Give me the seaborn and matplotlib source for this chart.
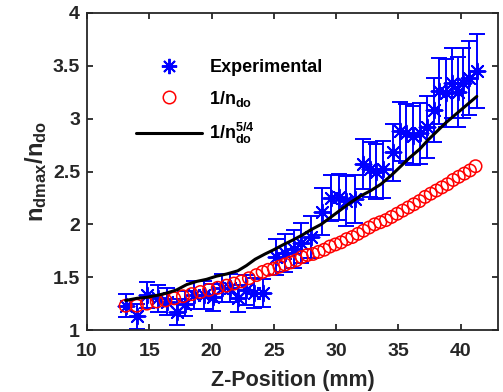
import matplotlib
matplotlib.use("Agg")
import matplotlib.pyplot as plt
import seaborn as sns
from matplotlib.lines import Line2D

# Experimental points (Z in mm, ratio, +/- error)
exp_z = [13.1, 14.0, 14.8, 15.7, 16.4, 17.2, 17.9, 18.6, 19.4, 20.1, 20.8, 21.5,
         22.1, 22.8, 23.4, 24.1, 25.2, 25.9, 26.6, 27.2, 28.0, 28.9, 29.6, 30.2,
         30.8, 31.5, 32.2, 32.7, 33.2, 33.8, 34.6, 35.1, 35.6, 36.2, 36.7, 37.3,
         37.9, 38.3, 38.8, 39.3, 39.8, 40.2, 40.7, 41.3]
exp_ratio = [1.23, 1.13, 1.33, 1.30, 1.27, 1.17, 1.25, 1.33, 1.33, 1.31, 1.40, 1.40,
             1.30, 1.38, 1.35, 1.35, 1.69, 1.73, 1.77, 1.82, 1.88, 2.12, 2.25, 2.26,
             2.22, 2.24, 2.57, 2.52, 2.50, 2.52, 2.68, 2.88, 2.86, 2.84, 2.86, 2.92,
             3.08, 3.26, 3.24, 3.34, 3.25, 3.34, 3.38, 3.45]
exp_err = [0.11, 0.12, 0.12, 0.13, 0.13, 0.12, 0.12, 0.13, 0.13, 0.13, 0.13, 0.13,
           0.13, 0.14, 0.14, 0.13, 0.17, 0.18, 0.18, 0.19, 0.20, 0.22, 0.22, 0.22,
           0.24, 0.23, 0.24, 0.26, 0.26, 0.27, 0.27, 0.28, 0.28, 0.28, 0.29, 0.29,
           0.30, 0.31, 0.32, 0.33, 0.33, 0.33, 0.35, 0.35]

# 1/n_do curve (red circles)
ndo_z = [13.1, 14.0, 14.8, 15.6, 16.3, 17.0, 17.7, 18.4, 19.1, 19.8, 20.5, 21.2,
         21.8, 22.4, 23.0, 23.6, 24.1, 24.55, 25.0, 25.45, 25.9, 26.35, 26.8, 27.25,
         27.7, 28.15, 28.6, 29.05, 29.5, 29.95, 30.4, 30.85, 31.3, 31.75, 32.2, 32.65,
         33.1, 33.55, 34.0, 34.45, 34.9, 35.35, 35.8, 36.25, 36.7, 37.15, 37.6, 38.05,
         38.5, 38.95, 39.4, 39.85, 40.3, 40.75, 41.2]
ndo_ratio = [1.23, 1.23, 1.25, 1.27, 1.28, 1.30, 1.32, 1.34, 1.36, 1.38, 1.40, 1.42,
             1.44, 1.46, 1.49, 1.52, 1.55, 1.57, 1.58, 1.60, 1.62, 1.64, 1.66, 1.69,
             1.71, 1.72, 1.74, 1.76, 1.79, 1.81, 1.83, 1.86, 1.88, 1.91, 1.94, 1.97,
             2.00, 2.02, 2.04, 2.07, 2.10, 2.13, 2.16, 2.19, 2.22, 2.26, 2.29, 2.32,
             2.35, 2.38, 2.42, 2.45, 2.48, 2.51, 2.55]

# 1/n_do^(5/4) curve (black line)
n54_z = [13.1, 14.0, 14.8, 15.7, 16.4, 17.2, 18.0, 18.8, 19.6, 20.4, 21.2, 22.1,
         22.8, 23.5, 24.3, 25.0, 25.8, 26.5, 27.3, 28.0, 28.8, 29.6, 30.4, 31.2,
         32.0, 32.8, 33.6, 34.4, 35.2, 35.9, 36.7, 37.4, 38.1, 38.8, 39.6, 40.4, 41.3]
n54_ratio = [1.28, 1.30, 1.31, 1.33, 1.35, 1.38, 1.43, 1.46, 1.48, 1.51, 1.53, 1.56,
             1.61, 1.67, 1.72, 1.76, 1.81, 1.85, 1.90, 1.95, 2.00, 2.07, 2.14, 2.21,
             2.27, 2.32, 2.38, 2.46, 2.55, 2.63, 2.71, 2.80, 2.88, 2.96, 3.04, 3.12, 3.21]

x_ticks = [10, 15, 20, 25, 30, 35, 40]
y_ticks = [1, 1.5, 2, 2.5, 3, 3.5, 4]
y_tick_labels = ["1", "1.5", "2", "2.5", "3", "3.5", "4"]

sns.set_theme(style="white")
plt.rcParams['font.family'] = ['Liberation Sans', 'DejaVu Sans']
plt.rcParams['font.weight'] = 'bold'
plt.rcParams['mathtext.fontset'] = 'custom'
plt.rcParams['mathtext.rm'] = 'Liberation Sans:bold'
plt.rcParams['mathtext.it'] = 'Liberation Sans:bold'
plt.rcParams['mathtext.bf'] = 'Liberation Sans:bold'
plt.rcParams['mathtext.default'] = 'rm'

axis_gray = '#262626'
star = (8, 2, 0)

fig, ax = plt.subplots(figsize=(5.03, 3.92), dpi=100)
fig.subplots_adjust(left=0.173, right=0.990, top=0.967, bottom=0.158)

# error bars for experimental data
ax.errorbar(exp_z, exp_ratio, yerr=exp_err, fmt='none', ecolor='blue',
            elinewidth=1.4, capsize=5.5, capthick=1.4, zorder=2)
sns.scatterplot(x=exp_z, y=exp_ratio, marker=star, s=130, color='blue',
                edgecolor='blue', linewidth=1.4, ax=ax, zorder=3)
sns.scatterplot(x=ndo_z, y=ndo_ratio, marker='o', s=80, facecolor='none',
                edgecolor='red', linewidth=1.1, ax=ax, zorder=4)
sns.lineplot(x=n54_z, y=n54_ratio, color='black', linewidth=2.2, ax=ax,
             sort=False, zorder=5)

ax.set_xlim(10, 43)
ax.set_ylim(1, 4)
ax.set_xticks(x_ticks)
ax.set_yticks(y_ticks)
ax.set_yticklabels(y_tick_labels)
ax.tick_params(direction='in', length=4, width=1.3, colors=axis_gray,
               labelsize=14, top=True, right=True, bottom=True, left=True)
ax.tick_params(axis='x', pad=9.5)
ax.tick_params(axis='y', pad=5)
for lab in ax.get_xticklabels() + ax.get_yticklabels():
    lab.set_fontweight('bold')
for sp in ax.spines.values():
    sp.set_color(axis_gray)
    sp.set_linewidth(1.3)

ax.set_xlabel('Z-Position (mm)', fontsize=15.5, fontweight='bold', color=axis_gray, labelpad=7)
ax.set_ylabel(r'$n_{dmax}/n_{do}$', fontsize=17, color=axis_gray, labelpad=3)

handles = [
    Line2D([], [], linestyle='none', marker=star, markersize=11, color='blue',
           markeredgewidth=1.4),
    Line2D([], [], linestyle='none', marker='o', markersize=9, markerfacecolor='none',
           markeredgecolor='red', markeredgewidth=1.1),
    Line2D([], [], color='black', linewidth=2.2),
]
labels = ['Experimental', r'$1/n_{do}$', r'$1/n_{do}^{5/4}$']
leg = ax.legend(handles, labels, loc='upper left', bbox_to_anchor=(0.12, 0.855),
                frameon=False, fontsize=13, handlelength=3.65, handletextpad=0.4,
                labelspacing=0.7, borderaxespad=0, borderpad=0)
for t in leg.get_texts():
    t.set_fontweight('bold')
    t.set_color('black')

fig.savefig('out.png', dpi=100)
